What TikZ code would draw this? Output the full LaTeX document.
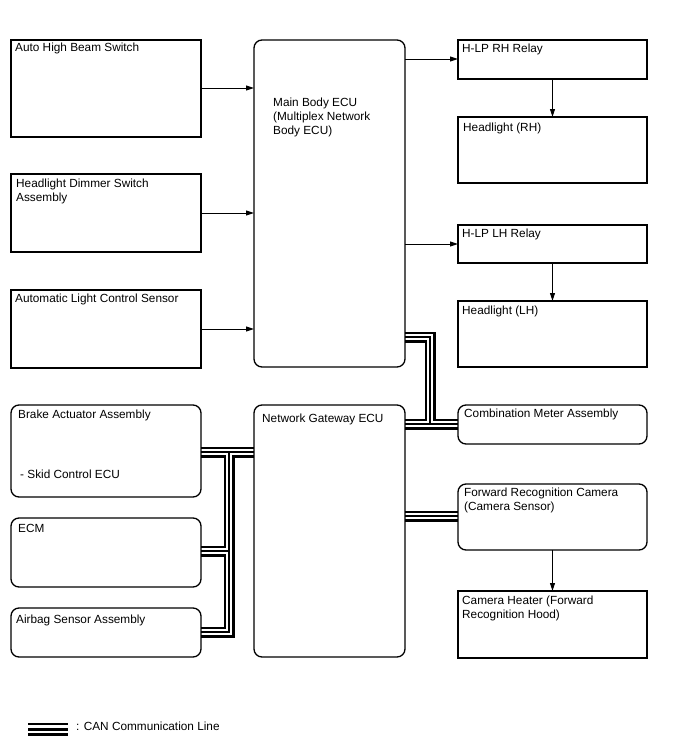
\documentclass[tikz,border=0pt]{standalone}
\usepackage{fontspec}
\setmainfont{Liberation Sans}
\usetikzlibrary{arrows.meta,backgrounds}
\begin{document}
\begin{tikzpicture}[x=1pt,y=-1pt,
  box/.style={draw=black,line width=1.3pt,anchor=north west,inner sep=0pt,outer sep=0pt},
  rbox/.style={box,rounded corners=8pt},
  txt/.style={anchor=base west,inner sep=0pt,align=left,font=\fontsize{11.8}{14}\selectfont},
  arr/.style={line width=1pt,-{Triangle[length=8pt,width=5pt]}}]
\useasboundingbox (0,0) rectangle (688,755);

% left column
\node[box,minimum width=190pt,minimum height=97pt] (ahb) at (11,40) {};
\node[box,minimum width=190pt,minimum height=78pt] (hds) at (11,174) {};
\node[box,minimum width=190pt,minimum height=78pt] (alc) at (11,290) {};
\node[rbox,minimum width=190pt,minimum height=92pt] (bra) at (11,405) {};
\node[rbox,minimum width=190pt,minimum height=69pt] (ecm) at (11,518) {};
\node[rbox,minimum width=190pt,minimum height=49pt] (air) at (11,608) {};
% middle
\node[rbox,minimum width=151pt,minimum height=327pt] (mb) at (254,40) {};
\node[rbox,minimum width=151pt,minimum height=252pt] (gw) at (254,405) {};
% right column
\node[box,minimum width=189pt,minimum height=39pt] (rhr) at (458,40) {};
\node[box,minimum width=189pt,minimum height=66pt] (hrh) at (458,117) {};
\node[box,minimum width=189pt,minimum height=38pt] (lhr) at (458,225) {};
\node[box,minimum width=189pt,minimum height=66pt] (hlh) at (458,301) {};
\node[rbox,minimum width=189pt,minimum height=39pt] (cm) at (458,405) {};
\node[rbox,minimum width=189pt,minimum height=66pt] (frc) at (458,484) {};
\node[box,minimum width=189pt,minimum height=67pt] (ch) at (458,591) {};

% texts (base = baseline of the last line)
\node[txt] (ahb-t) at (15,51.5) {Auto High Beam Switch};
\node[txt] (hds-t) at (16,201.5) {Headlight Dimmer Switch\\Assembly};
\node[txt] (alc-t) at (15,302) {Automatic Light Control Sensor};
\node[txt] (bra-t) at (18,418) {Brake Actuator Assembly};
\node[txt] (bra-s) at (20,478) {- Skid Control ECU};
\node[txt] (ecm-t) at (18,532) {ECM};
\node[txt] (air-t) at (16,623) {Airbag Sensor Assembly};
\node[txt] (mb-t) at (273,134) {Main Body ECU\\(Multiplex Network\\Body ECU)};
\node[txt] (gw-t) at (262,422) {Network Gateway ECU};
\node[txt] (rhr-t) at (462,52) {H-LP RH Relay};
\node[txt] (hrh-t) at (463,131) {Headlight (RH)};
\node[txt] (lhr-t) at (462,237) {H-LP LH Relay};
\node[txt] (hlh-t) at (462,314) {Headlight (LH)};
\node[txt] (cm-t) at (464,417) {Combination Meter Assembly};
\node[txt] (frc-t) at (464,510) {Forward Recognition Camera\\(Camera Sensor)};
\node[txt] (ch-t) at (462,618) {Camera Heater (Forward\\Recognition Hood)};

% arrows
\draw[arr] (ahb.east |- 0,88) -- (mb.west |- 0,88);
\draw[arr] (hds.east |- 0,213) -- (mb.west |- 0,213);
\draw[arr] (alc.east |- 0,329) -- (mb.west |- 0,329);
\draw[arr] (mb.east |- 0,59) -- (rhr.west |- 0,59);
\draw[arr] (mb.east |- 0,244) -- (lhr.west |- 0,244);
\draw[arr] (rhr.south) -- (hrh.north);
\draw[arr] (lhr.south) -- (hlh.north);
\draw[arr] (frc.south) -- (ch.north);

% CAN lines
\coordinate (jL1) at (229,452);
\coordinate (jL2) at (229,551);
\coordinate (jL3) at (229,632);
\coordinate (jR1) at (430,337);
\coordinate (jR2) at (430,424);
\coordinate (lg1) at (28,729);
\coordinate (lg2) at (68,729);
\begin{scope}[on background layer]
\fill[white] (0,0) rectangle (688,755);
\foreach \w/\c in {11/black,6.2/white,2.2/black}{
  \draw[line width=\w pt,draw=\c]
    (bra.east |- jL1) -- (gw.west |- jL1)
    (jL1) -- (jL3) -- (air.east |- jL3)
    (jL2) -- (ecm.east |- jL2)
    (mb.east |- jR1) -- (jR1) -- (jR2) -- (cm.west |- jR2)
    (gw.east |- jR2) -- (jR2)
    (gw.east |- 0,516) -- (frc.west |- 0,516);
}
\foreach \w/\c in {13/black,7.4/white,3/black}{
  \draw[line width=\w pt,draw=\c] (lg1) -- (lg2);
}
\end{scope}
\node[txt] (lg-t) at (76,730) {: CAN Communication Line};
\end{tikzpicture}
\end{document}
